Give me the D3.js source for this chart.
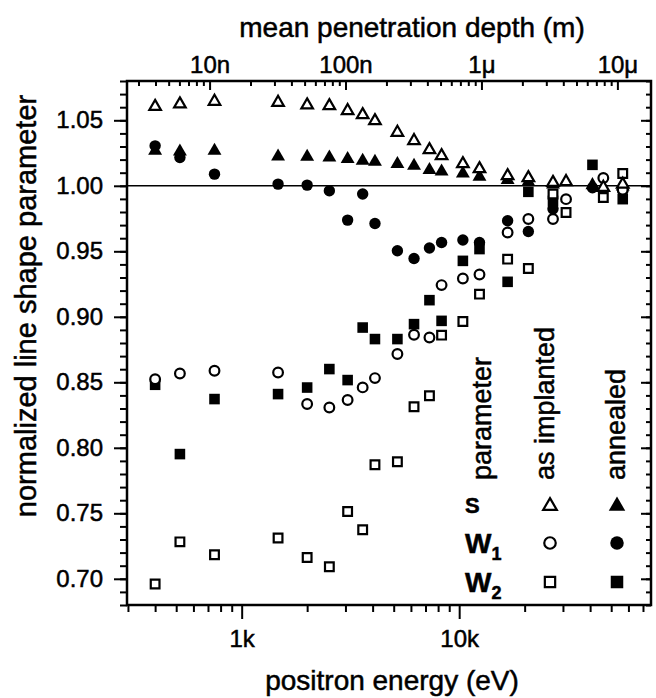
<!DOCTYPE html>
<html>
<head>
<meta charset="utf-8">
<script src="https://cdn.jsdelivr.net/npm/d3@7/dist/d3.min.js"></script>
<style>
  body { margin: 0; background: #fff; }
  svg text { font-family: "Liberation Sans", Arial, sans-serif; fill: #000; stroke: #000; stroke-width: 0.5px; }
</style>
</head>
<body>
<svg id="chart" width="656" height="698"></svg>
<script>
// positron energies in keV
let energyImplanted = [0.4, 0.52, 0.75, 1.47, 2.0, 2.53, 3.07, 3.6, 4.1, 5.2, 6.2, 7.3, 8.3, 10.4, 12.4, 16.7, 20.8, 27, 31, 46, 56.5];
let energyAnnealed = [0.4, 0.52, 0.75, 1.47, 2.0, 2.53, 3.07, 3.6, 4.1, 5.2, 6.2, 7.3, 8.3, 10.4, 12.4, 16.7, 20.8, 27, 41, 56.5];

// as implanted (open markers)
let sImplanted = [1.0605, 1.0624, 1.0644, 1.0636, 1.0616, 1.0611, 1.0573, 1.0542, 1.0496, 1.0407, 1.0344, 1.0275, 1.0229, 1.0168, 1.0130, 1.0076, 1.0061, 1.0025, 1.0031, 0.9987, 1.0011];
let w1Implanted = [0.8524, 0.8567, 0.8588, 0.8575, 0.8334, 0.8308, 0.8365, 0.8461, 0.8532, 0.8716, 0.8863, 0.8842, 0.9242, 0.9292, 0.9323, 0.9644, 0.9746, 0.9746, 0.9898, 1.0059, 0.9969];
let w2Implanted = [0.6960, 0.7282, 0.7183, 0.7311, 0.7163, 0.7092, 0.7514, 0.7374, 0.7870, 0.7893, 0.8313, 0.8397, 0.8860, 0.8964, 0.9173, 0.9440, 0.9369, 0.9937, 0.9796, 0.9911, 1.0094];

// annealed (filled markers)
let sAnnealed = [1.0267, 1.0262, 1.0267, 1.0224, 1.0221, 1.0216, 1.0204, 1.0191, 1.0183, 1.0166, 1.0153, 1.0120, 1.0109, 1.0094, 1.0069, 1.0044, 1.0030, 1.0010, 1.0005, 0.9995];
let w1Annealed = [1.0305, 1.0216, 1.0089, 1.0013, 1.0005, 0.9962, 0.9738, 0.9937, 0.9712, 0.9504, 0.9445, 0.9525, 0.9567, 0.9586, 0.9567, 0.9733, 0.9651, 0.9824, 0.9985, 0.9960];
let w2Annealed = [0.8481, 0.7952, 0.8372, 0.8410, 0.8460, 0.8601, 0.8517, 0.8918, 0.8830, 0.8830, 0.8944, 0.9127, 0.8969, 0.9427, 0.9517, 0.9267, 0.9954, 0.9885, 1.0160, 0.9898];

// tick labels
let energyTicks = [1, 10];
let energyTickLabels = ['1k', '10k'];
let depthTicks = [1e-8, 1e-7, 1e-6, 1e-5];
let depthTickLabels = ['10n', '100n', '1\u03bc', '10\u03bc'];
let yTicks = [0.70, 0.75, 0.80, 0.85, 0.90, 0.95, 1.00, 1.05];

let margin = {top: 81, right: 5, bottom: 93, left: 127},
  width = 656 - margin.left - margin.right,
  height = 698 - margin.top - margin.bottom;

let svg = d3.select('#chart');
svg.append('rect').attr('width', 656).attr('height', 698).attr('fill', '#fff');

let g = svg.append('g')
  .attr('transform', 'translate(' + margin.left + ',' + margin.top + ')');

let x = d3.scaleLog().domain([0.297, 76.2]).range([0, width]);
let y = d3.scaleLinear().domain([0.68, 1.08]).range([height, 0]);

// mean penetration depth (m) ~ E^1.6, 1 micron at ~12.66 keV
let depth = e => 1e-6 * Math.pow(e / 12.66, 1.6);
let xTop = d3.scaleLog().domain([depth(0.297), depth(76.2)]).range([0, width]);

let font = '"Liberation Sans", Arial, sans-serif';

// minor tick values
let energyMinor = [];
[0.1, 1, 10].forEach(dec => { for (let k = 2; k <= 9; k++) energyMinor.push(dec * k); });
energyMinor = energyMinor.filter(v => v >= 0.297 && v <= 76.2);
let depthMinor = [];
[1e-9, 1e-8, 1e-7, 1e-6, 1e-5].forEach(dec => { for (let k = 2; k <= 9; k++) depthMinor.push(dec * k); });
depthMinor = depthMinor.filter(v => v >= xTop.domain()[0] && v <= xTop.domain()[1]);
let yMinor = d3.range(68, 109).map(v => v / 100);

function styleAxis(sel) {
  sel.select('.domain').remove();
  sel.selectAll('line').attr('stroke', '#000').attr('stroke-width', 2);
  sel.attr('font-size', 24).attr('font-family', font);
}

// bottom axis (outward ticks)
g.append('g').attr('transform', 'translate(0,' + height + ')')
  .call(d3.axisBottom(x).tickValues(energyMinor).tickSize(7).tickFormat(''))
  .call(styleAxis);
g.append('g').attr('transform', 'translate(0,' + height + ')')
  .call(d3.axisBottom(x).tickValues(energyTicks).tickSize(14).tickPadding(11)
    .tickFormat((d, i) => energyTickLabels[i]))
  .call(styleAxis);

// top axis: depth, inward ticks
g.append('g')
  .call(d3.axisTop(xTop).tickValues(depthMinor).tickSizeInner(-5).tickSizeOuter(0).tickFormat(''))
  .call(styleAxis);
g.append('g')
  .call(d3.axisTop(xTop).tickValues(depthTicks).tickSizeInner(-9).tickSizeOuter(0).tickPadding(8)
    .tickFormat((d, i) => depthTickLabels[i]))
  .call(styleAxis);

// left axis (outward)
g.append('g')
  .call(d3.axisLeft(y).tickValues(yMinor).tickSize(7).tickFormat(''))
  .call(styleAxis);
g.append('g')
  .call(d3.axisLeft(y).tickValues(yTicks).tickSize(13).tickPadding(11).tickFormat(d3.format('.2f')))
  .call(styleAxis);

// right axis (inward)
g.append('g').attr('transform', 'translate(' + width + ',0)')
  .call(d3.axisRight(y).tickValues(yMinor).tickSize(-5).tickFormat(''))
  .call(styleAxis);
g.append('g').attr('transform', 'translate(' + width + ',0)')
  .call(d3.axisRight(y).tickValues(yTicks).tickSize(-10).tickFormat(''))
  .call(styleAxis);

// frame
g.append('rect')
  .attr('width', width).attr('height', height)
  .attr('fill', 'none').attr('stroke', '#000').attr('stroke-width', 2.5);

// reference line at 1.00
g.append('line')
  .attr('x1', 0).attr('x2', width)
  .attr('y1', y(1)).attr('y2', y(1))
  .attr('stroke', '#000').attr('stroke-width', 1.5);

// marker styles
let markers = {
  triFilled: {type: d3.symbolTriangle, size: 84, filled: true},
  cirFilled: {type: d3.symbolCircle, size: 102, filled: true},
  sqrFilled: {type: d3.symbolSquare, size: 112, filled: true},
  triOpen: {type: d3.symbolTriangle, size: 58, filled: false},
  cirOpen: {type: d3.symbolCircle, size: 74, filled: false},
  sqrOpen: {type: d3.symbolSquare, size: 76, filled: false}
};

let series = [
  {energy: energyAnnealed, values: w2Annealed, marker: 'sqrFilled'},
  {energy: energyAnnealed, values: w1Annealed, marker: 'cirFilled'},
  {energy: energyAnnealed, values: sAnnealed, marker: 'triFilled'},
  {energy: energyImplanted, values: w2Implanted, marker: 'sqrOpen'},
  {energy: energyImplanted, values: w1Implanted, marker: 'cirOpen'},
  {energy: energyImplanted, values: sImplanted, marker: 'triOpen'}
];

function drawMarker(sel, m, scale) {
  sel.attr('d', d3.symbol().type(m.type).size(m.size * (scale || 1))())
    .attr('fill', m.filled ? '#000' : '#fff')
    .attr('stroke', m.filled ? 'none' : '#000')
    .attr('stroke-width', m.filled ? 0 : 2.2);
}

series.forEach(s => {
  let m = markers[s.marker];
  g.append('g').selectAll('path')
    .data(s.values.map((v, i) => ({e: s.energy[i], v: v})))
    .enter().append('path')
    .attr('transform', d => 'translate(' + x(d.e) + ',' + y(d.v) + ')')
    .call(drawMarker, m);
});

// axis titles
svg.append('text')
  .attr('x', 392).attr('y', 690)
  .attr('text-anchor', 'middle').attr('font-size', 28)
  .text('positron energy (eV)');
svg.append('text')
  .attr('x', 412).attr('y', 37)
  .attr('text-anchor', 'middle').attr('font-size', 28)
  .text('mean penetration depth (m)');
svg.append('text')
  .attr('transform', 'translate(36,306) rotate(-90)')
  .attr('text-anchor', 'middle').attr('font-size', 29)
  .text('normalized line shape parameter');

// legend
let legendHeads = [['parameter', 491], ['as implanted', 554], ['annealed', 625]];
legendHeads.forEach(h => {
  svg.append('text')
    .attr('transform', 'translate(' + h[1] + ',480) rotate(-90)')
    .attr('font-size', 27)
    .text(h[0]);
});

let legendRows = [
  {label: 'S', sub: '', y: 506, open: 'triOpen', filled: 'triFilled'},
  {label: 'W', sub: '1', y: 543, open: 'cirOpen', filled: 'cirFilled'},
  {label: 'W', sub: '2', y: 582, open: 'sqrOpen', filled: 'sqrFilled'}
];
legendRows.forEach(r => {
  let t = svg.append('text')
    .attr('x', 465).attr('y', r.y + (r.sub ? 10 : 7))
    .attr('font-weight', 'bold')
    .attr('font-size', r.sub ? 28 : 22)
    .text(r.label);
  if (r.sub) {
    t.append('tspan').attr('dy', 7).attr('font-size', 18).text(r.sub);
  }
  svg.append('path')
    .attr('transform', 'translate(550,' + r.y + ')')
    .call(drawMarker, markers[r.open], 1.4);
  svg.append('path')
    .attr('transform', 'translate(617,' + r.y + ')')
    .call(drawMarker, markers[r.filled], 1.4);
});
</script>
</body>
</html>
